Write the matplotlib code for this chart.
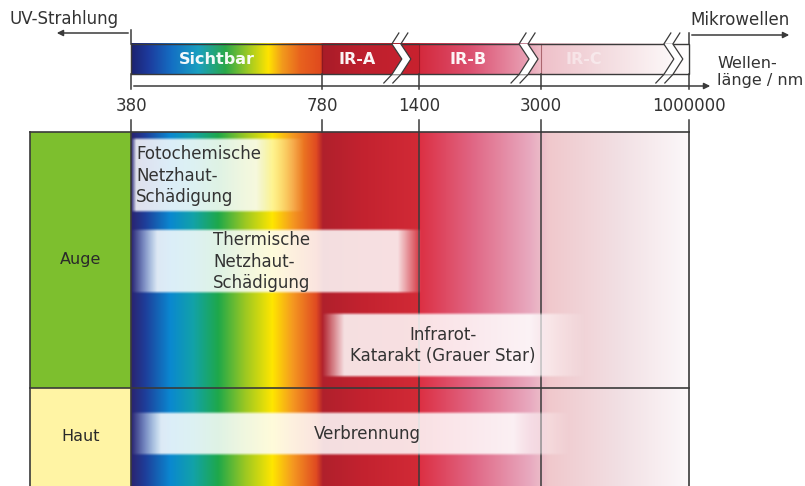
import matplotlib
matplotlib.use("Agg")
import matplotlib.pyplot as plt
import matplotlib.colors as mcolors
from matplotlib.patches import Rectangle, Polygon, FancyArrowPatch
import numpy as np

plt.rcParams["font.family"] = ["DejaVu Sans"]

# wavelength axis (nm), broken between the IR ranges
nm_ticks = [380, 780, 1400, 3000, 1000000]
tick_labels = ["380", "780", "1400", "3000", "1000000"]

spectral_ranges = ["Sichtbar", "IR-A", "IR-B", "IR-C"]
range_nm = [(380, 780), (780, 1400), (1400, 3000), (3000, 1000000)]

organs = ["Auge", "Haut"]
effects = [
    "Fotochemische\nNetzhaut-\nSchädigung",
    "Thermische\nNetzhaut-\nSchädigung",
    "Infrarot-\nKatarakt (Grauer Star)",
    "Verbrennung",
]
effect_nm = [(380, 680), (380, 1400), (780, 3000), (380, 3000)]

# layout (pixel coordinates of the 805x486 picture)
W, H = 805, 486
tick_px = [131, 322, 419, 541, 689]


def xpos(nm):
    return np.interp(np.log10(nm), np.log10(nm_ticks), tick_px)


bar_top, bar_bot, axis_y = 44, 74.5, 86
panel_top, panel_div, panel_bot = 132, 388, 490
left_x = 30

# colour stops (pixel x, colour)
bar_stops = [
    (131, "#1c2270"), (148, "#1d3a9c"), (172, "#1470c4"), (198, "#1aa0c0"),
    (225, "#2aa84a"), (250, "#a8cc20"), (268, "#ffe400"), (282, "#f29a1c"),
    (300, "#e8621e"), (320, "#e04a1e"), (322.5, "#a81c28"), (360, "#bd1f2d"),
    (418, "#c8222f"), (420, "#d42a3e"), (470, "#dc5070"), (528, "#e9a2b6"),
    (541, "#efc0c9"), (600, "#f3dade"), (689, "#ffffff"),
]
panel_stops = [
    (131, "#2b2370"), (145, "#1e3e9a"), (170, "#0a88d0"), (193, "#12a2a8"),
    (218, "#1ea84a"), (245, "#9cc822"), (272, "#ffe600"), (292, "#f59a20"),
    (316, "#e04a22"), (322.5, "#b0202c"), (360, "#c2222f"), (418, "#d22a36"),
    (420, "#dc3044"), (470, "#e06482"), (530, "#e8aac0"), (541, "#ecbcc8"),
    (548, "#f0c8cc"), (620, "#f2e0e4"), (689, "#fcf8fa"),
]
organ_colors = {"Auge": "#7dbf2e", "Haut": "#fff4a4"}
# fade-in width, fade-out start/end relative to range end (px)
effect_fade = [(5, -30, 18), (26, -22, 2), (22, -12, 44), (30, -28, 28)]
effect_y = [(137, 213), (228, 294), (312, 378), (411, 456)]
range_label_x = [217, 357, 468, 584]
break_frac = [None, 0.72, 0.82, 0.83]
line_col = "#3a3a3a"
text_col = "#333333"


def gradient(stops, x0, x1):
    xs = np.arange(x0, x1 + 0.5, 0.5)
    px = [s[0] for s in stops]
    rgb = np.array([mcolors.to_rgb(s[1]) for s in stops])
    img = np.stack([np.interp(xs, px, rgb[:, k]) for k in range(3)], axis=-1)
    return img[np.newaxis, :, :]


fig = plt.figure(figsize=(W / 100, H / 100), dpi=100)
ax = fig.add_axes([0, 0, 1, 1])
ax.set_xlim(0, W)
ax.set_ylim(H, 0)
ax.axis("off")

x0, x1 = xpos(nm_ticks[0]), xpos(nm_ticks[-1])

# top spectrum bar
ax.imshow(gradient(bar_stops, x0, x1), extent=(x0, x1, bar_bot, bar_top),
          aspect="auto", interpolation="bilinear", zorder=1)
ax.add_patch(Rectangle((x0, bar_top), x1 - x0, bar_bot - bar_top, fill=False,
                       ec=line_col, lw=1, zorder=3))
for name, (a, b), lx, frac in zip(spectral_ranges, range_nm, range_label_x, break_frac):
    xa, xb = xpos(a), xpos(b)
    ax.plot([xa, xa], [bar_top, bar_bot], color="#6a1018", lw=0.8, alpha=0.5, zorder=2)
    ax.text(lx, 59.5, name, color="white", fontsize=11.5, fontweight="bold",
            ha="center", va="center", alpha=0.45 if name == "IR-C" else 0.95, zorder=4)
    if frac is not None:
        cx = xa + frac * (xb - xa)
        la = np.array([(cx + 7, 33), (cx, 44), (cx + 10, 59), (cx, 74.5), (cx - 8, 83)])
        lb = la + [9, 0]
        ax.add_patch(Polygon(np.vstack([la[1:4], lb[1:4][::-1]]), closed=True,
                             fc="white", ec="none", zorder=4))
        ax.plot(la[:, 0], la[:, 1], color=line_col, lw=0.9, zorder=5)
        ax.plot(lb[:, 0], lb[:, 1], color=line_col, lw=0.9, zorder=5)

# wavelength axis
ax.add_patch(FancyArrowPatch((x0, axis_y), (713, axis_y), arrowstyle="-|>",
                             mutation_scale=9, color=line_col, lw=1.1, zorder=3))
for nm, lab in zip(nm_ticks, tick_labels):
    x = xpos(nm)
    ax.plot([x, x], [bar_bot, axis_y + 3], color=line_col, lw=1.1, zorder=3)
    ax.plot([x, x], [120, panel_top], color=line_col, lw=1.1, zorder=3)
    ax.text(x, 106, lab, fontsize=12, ha="center", va="center", color=text_col)

ax.plot([x0, x0], [30, bar_top], color=line_col, lw=1.1)
ax.plot([x1, x1], [33, bar_top], color=line_col, lw=1.1)
ax.add_patch(FancyArrowPatch((x0, 33), (54, 33), arrowstyle="-|>",
                             mutation_scale=9, color=line_col, lw=1.1))
ax.add_patch(FancyArrowPatch((x1, 35), (792, 35), arrowstyle="-|>",
                             mutation_scale=9, color=line_col, lw=1.1))
ax.text(9, 19, "UV-Strahlung", fontsize=12, ha="left", va="center", color=text_col)
ax.text(690, 20, "Mikrowellen", fontsize=12, ha="left", va="center", color=text_col)
ax.text(717, 72, "Wellen-\nlänge / nm", fontsize=11.5, ha="left", va="center",
        color=text_col, linespacing=1.15)

# main panel background
ax.imshow(gradient(panel_stops, x0, x1), extent=(x0, x1, panel_bot, panel_top),
          aspect="auto", interpolation="bilinear", zorder=1)
organ_rows = {"Auge": (panel_top, panel_div), "Haut": (panel_div, panel_bot)}
for organ in organs:
    ya, yb = organ_rows[organ]
    ax.add_patch(Rectangle((left_x, ya), x0 - left_x, yb - ya,
                           fc=organ_colors[organ], ec="none", zorder=1))
    ax.text((left_x + x0) / 2, (ya + min(yb, H)) / 2 - 1, organ, fontsize=11.5,
            ha="center", va="center", color="#2a2a2a", zorder=3)

for nm in nm_ticks[2:-1]:
    x = xpos(nm)
    ax.plot([x, x], [panel_top, panel_bot], color=line_col, lw=1.1, zorder=2)
ax.plot([left_x, x1], [panel_top, panel_top], color=line_col, lw=1.2, zorder=5)
ax.plot([left_x, x1], [panel_div, panel_div], color=line_col, lw=1.2, zorder=5)
ax.plot([left_x, left_x], [panel_top, panel_bot], color=line_col, lw=1.2, zorder=5)
ax.plot([x0, x0], [panel_top, panel_bot], color=line_col, lw=1.2, zorder=5)
ax.plot([x1, x1], [panel_top, panel_bot], color=line_col, lw=1.2, zorder=5)

# white effect bands
text_pos = [("left", 136), ("left", 213), ("center", 443), ("center", 367)]
for txt, (a, b), fade, (ya, yb), (ha, tx) in zip(effects, effect_nm, effect_fade,
                                                 effect_y, text_pos):
    xa, xb = xpos(a), xpos(b)
    fin, fo0, fo1 = fade
    xs = np.arange(xa, xb + fo1 + 0.5, 0.5)
    alpha = np.clip((xs - xa) / fin, 0, 1) * np.clip((xb + fo1 - xs) / (fo1 - fo0), 0, 1)
    ys = np.arange(ya, yb + 0.5, 0.5)
    va = np.clip(np.minimum(ys - ya, yb - ys) / 3, 0, 1)
    img = np.ones((len(ys), len(xs), 4))
    img[..., 3] = 0.86 * va[:, None] * alpha[None, :]
    ax.imshow(img, extent=(xa, xs[-1], yb, ya), aspect="auto",
              interpolation="bilinear", zorder=3)
    ax.text(tx, (ya + yb) / 2 + 0.5, txt, fontsize=12, ha=ha, va="center",
            multialignment=ha, color=text_col, linespacing=1.27, zorder=4)

ax.set_xlim(0, W)
ax.set_ylim(H, 0)
fig.savefig("out.png", dpi=100)
